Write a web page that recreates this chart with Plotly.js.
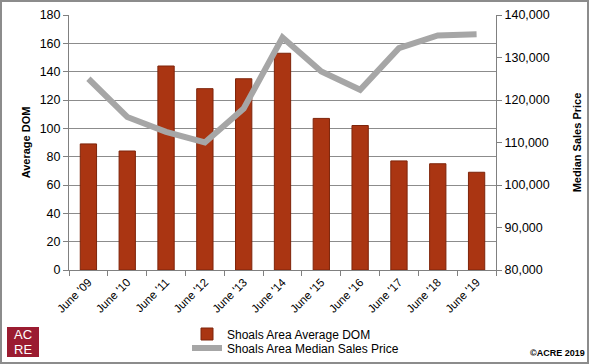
<!DOCTYPE html>
<html><head><meta charset="utf-8">
<script src="https://cdn.plot.ly/plotly-3.0.1.min.js"></script>
<style>html,body{margin:0;padding:0;background:#fff}#c{width:589px;height:364px}</style>
</head><body><div id="c"></div>
<script>
const categories = ["June '09","June '10","June '11","June '12","June '13","June '14","June '15","June '16","June '17","June '18","June '19"];
const avgDom = [89, 84, 144, 128, 135, 153, 107, 102, 77, 75, 69];
const medianPrice = [125000, 116000, 112500, 110000, 118000, 134700, 126700, 122400, 132200, 135200, 135500];
const leftTicks = [0,20,40,60,80,100,120,140,160,180];
const rightTicks = [80000,90000,100000,110000,120000,130000,140000];

const ff = "Liberation Sans, Arial, sans-serif";
const traces = [
  {type: "bar", x: categories, y: avgDom, name: "Shoals Area Average DOM", legend: "legend",
   marker: {color: "#AA3512", line: {color: "#7E240A", width: 1}}, yaxis: "y"},
  {type: "scatter", mode: "lines", x: categories, y: medianPrice, name: "Shoals Area Median Sales Price",
   legend: "legend2", line: {color: "#A6A6A6", width: 6}, yaxis: "y2"}
];
const W = 427, H = 255;
const legBase = {xanchor: "left", yanchor: "middle", orientation: "v", font: {family: ff, size: 12},
                 itemwidth: 30, bgcolor: "rgba(0,0,0,0)"};
const layout = {
  width: 589, height: 364,
  margin: {l: 69, r: 93, t: 15, b: 94, autoexpand: false},
  paper_bgcolor: "#fff", plot_bgcolor: "#fff",
  font: {family: ff, size: 12, color: "#000"},
  bargap: 0.58,
  showlegend: true,
  legend: Object.assign({}, legBase, {x: (187-69)/W, y: -(334-270)/H}),
  legend2: Object.assign({}, legBase, {x: (187-69)/W, y: -(348-270)/H}),
  xaxis: {type: "category", tickson: "boundaries", ticks: "outside", ticklen: 5, tickcolor: "#808080",
          showline: true, linecolor: "#808080", tickangle: -45, showgrid: false,
          tickfont: {family: ff, size: 11.5}, automargin: false},
  yaxis: {range: [0, 180], tickvals: leftTicks, ticks: "outside", ticklen: 5, tickcolor: "#808080",
          showline: true, linecolor: "#808080", gridcolor: "#8C8C8C", gridwidth: 1, zeroline: false,
          automargin: false, tickfont: {size: 12.5},
          title: {text: "<b>Average DOM</b>", font: {size: 11}, standoff: 6}},
  yaxis2: {range: [80000, 140000], tickvals: rightTicks, tickformat: ",d", overlaying: "y", side: "right",
           ticks: "outside", ticklen: 5, tickcolor: "#808080", showline: true, linecolor: "#808080",
           showgrid: false, zeroline: false, automargin: false, tickfont: {size: 12.5},
           title: {text: "<b>Median Sales Price</b>", font: {size: 11}, standoff: 24}},
  shapes: [
    {type: "rect", xref: "paper", yref: "paper", x0: -68/W, x1: 519/W, y0: -93/H, y1: 1+14/H,
     line: {color: "#8C8C8C", width: 2}, fillcolor: "rgba(0,0,0,0)"},
    {type: "rect", xref: "paper", yref: "paper", x0: -62/W, x1: -30/W, y0: -(357-270)/H, y1: -(327-270)/H,
     line: {width: 0}, fillcolor: "#9B1C31"}
  ],
  annotations: [
    {xref: "paper", yref: "paper", x: -46/W, y: -(334.5-270)/H, xanchor: "center", yanchor: "middle", text: "AC",
     showarrow: false, font: {family: ff, size: 13, color: "#fff"}},
    {xref: "paper", yref: "paper", x: -46/W, y: -(349.5-270)/H, xanchor: "center", yanchor: "middle", text: "RE",
     showarrow: false, font: {family: ff, size: 13, color: "#fff"}},
    {xref: "paper", yref: "paper", x: 518/W, y: -(353-270)/H, xanchor: "right", yanchor: "middle",
     text: "<b>©ACRE 2019</b>", showarrow: false, font: {family: ff, size: 9, color: "#000"}}
  ]
};
Plotly.newPlot("c", traces, layout, {displayModeBar: false, staticPlot: true});
</script></body></html>
